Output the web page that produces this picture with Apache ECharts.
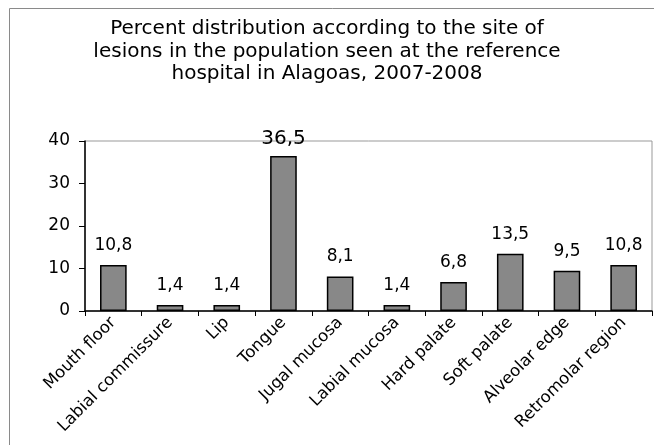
<!DOCTYPE html>
<html><head><meta charset="utf-8">
<script src="https://cdn.jsdelivr.net/npm/echarts@6/dist/echarts.min.js"></script>
<style>html,body{margin:0;padding:0;background:#fff}#c{width:654px;height:445px}</style>
</head><body><div id="c"></div>
<script>
var categories = ['Mouth floor','Labial commissure','Lip','Tongue','Jugal mucosa','Labial mucosa','Hard palate','Soft palate','Alveolar edge','Retromolar region'];
var values = [10.8, 1.4, 1.4, 36.5, 8.1, 1.4, 6.8, 13.5, 9.5, 10.8];
var yTicks = [0, 10, 20, 30, 40];
var titleText = 'Percent distribution according to the site of\nlesions in the population seen at the reference\nhospital in Alagoas, 2007-2008';

var chart = echarts.init(document.getElementById('c'), null, {renderer:'canvas'});
var F = 'DejaVu Sans';
chart.setOption({
  animation:false,
  textStyle:{fontFamily:F},
  graphic:[{type:'rect',shape:{x:9.5,y:8.5,width:700,height:500},style:{fill:'none',stroke:'#8a8a8a',lineWidth:1}}],
  title:{text:titleText,left:'center',top:13,textStyle:{fontFamily:F,fontSize:20,fontWeight:'normal',color:'#000',lineHeight:22.5}},
  grid:{left:85,right:2,top:141,bottom:134,show:true,borderColor:'#999',borderWidth:1},
  xAxis:{type:'category',data:categories,
    axisLine:{lineStyle:{color:'#000',width:1.5}},
    axisTick:{show:true,length:5,lineStyle:{color:'#000'}},
    axisLabel:{rotate:45,color:'#000',fontFamily:F,fontSize:16.5,margin:9,interval:0}},
  yAxis:{type:'value',min:0,max:40,interval:10,
    axisLine:{show:true,lineStyle:{color:'#000',width:1.5}},
    axisTick:{show:true,length:6,lineStyle:{color:'#000'}},
    splitLine:{show:false},
    axisLabel:{color:'#000',fontFamily:F,fontSize:17,margin:15,
      formatter:function(v){return yTicks.indexOf(v)>=0?String(v):'';}}},
  series:[{type:'bar',data:values.map(function(v,i){
      return {value:v,label:i===3?{fontSize:20,distance:7}:{}};
    }),barWidth:'47%',
    itemStyle:{color:'#888888',borderColor:'#000',borderWidth:1.5},
    label:{show:true,position:'top',distance:11,color:'#000',fontFamily:F,fontSize:17,
      formatter:function(p){return String(p.value).replace('.',',');}}}]
});
</script></body></html>
